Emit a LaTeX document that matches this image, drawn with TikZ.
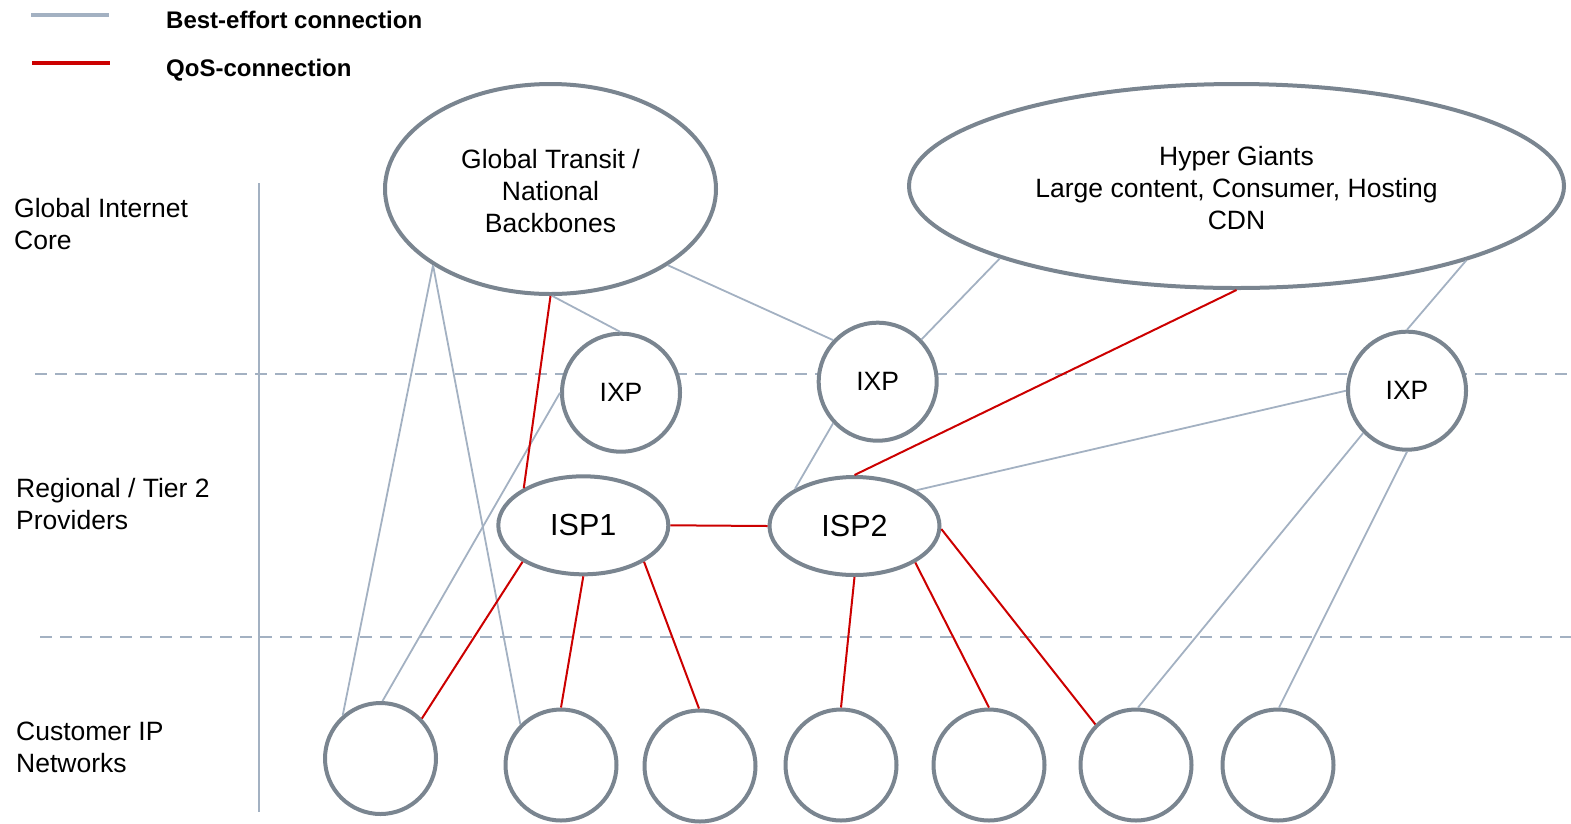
\documentclass[tikz,border=0pt]{standalone}
\usepackage{fontspec}
\setmainfont{Liberation Sans}
\usetikzlibrary{shapes.geometric}
\definecolor{rim}{HTML}{7A8590}
\definecolor{besteffort}{HTML}{A3B1C2}
\definecolor{qos}{HTML}{CC0000}
\tikzset{
  lbl/.style={font=\fontsize{26.5}{32}\selectfont, inner sep=0pt, align=left, anchor=west},
  legendtxt/.style={font=\fontsize{24}{29}\bfseries\selectfont, inner sep=0pt, anchor=base west},
  cloud/.style={ellipse, draw=rim, line width=4pt, fill=white, inner sep=0pt, align=center,
                font=\fontsize{26.5}{32}\selectfont},
  ixp/.style={circle, draw=rim, line width=4pt, fill=white, inner sep=0pt, minimum size=118pt,
              font=\fontsize{26.5}{32}\selectfont},
  isp/.style={ellipse, draw=rim, line width=4pt, fill=white, inner sep=0pt,
              minimum width=170pt, minimum height=98pt, font=\fontsize{30.5}{36}\selectfont},
  cust/.style={circle, draw=rim, line width=4pt, fill=white, inner sep=0pt, minimum size=111pt},
  be/.style={draw=besteffort, line width=1.8pt},
  qs/.style={draw=qos, line width=2pt},
  tierline/.style={draw=besteffort, line width=1.5pt, dash pattern=on 12pt off 8pt},
}
% strut that pushes a centred text block slightly lower
\newcommand{\lowerstrut}{\rule{0pt}{23.5pt}}
\begin{document}
\begin{tikzpicture}[x=1pt, y=-1pt]
\useasboundingbox (0,0) rectangle (1571,823);

% legend
\coordinate (lb1) at (31,15);  \coordinate (lb2) at (109,15);
\coordinate (lq1) at (32,62.5); \coordinate (lq2) at (110,62.5);
\draw[be, line width=4pt] (lb1) -- (lb2);
\draw[qs, line width=4pt] (lq1) -- (lq2);
\node[legendtxt] (ltxt1) at (166,28) {Best-effort connection};
\node[legendtxt] (ltxt2) at (166,76) {QoS-connection};

% tier separators and axis
\coordinate (s1a) at (35,374);  \coordinate (s1b) at (1571,374);
\coordinate (s2a) at (40,637);  \coordinate (s2b) at (1571,637);
\coordinate (axt) at (259,183); \coordinate (axb) at (259,812);
\draw[tierline] (s1a) -- (s1b);
\draw[tierline] (s2a) -- (s2b);
\draw[draw=besteffort, line width=2pt] (axt) -- (axb);

% tier labels
\node[lbl] (tcore) at (14,223.6) {Global Internet\\Core};
\node[lbl] (treg)  at (16,503.6) {Regional / Tier 2\\Providers};
\node[lbl] (tcust) at (16,747.2) {Customer IP\\Networks};

% core
\node[cloud, minimum width=331pt, minimum height=210pt] (gt) at (550.5,189)
  {\lowerstrut Global Transit /\\National\\Backbones};
\node[cloud, minimum width=655pt, minimum height=204pt] (hg) at (1236.5,186)
  {\lowerstrut Hyper Giants\\Large content, Consumer, Hosting\\CDN};

% exchange points
\node[ixp] (ixp1) at (621,392.7)   {IXP};
\node[ixp] (ixp2) at (877.7,381.7) {IXP};
\node[ixp] (ixp3) at (1407,390.7)  {IXP};

% regional providers
\node[isp] (isp1) at (583.3,525.3) {ISP1};
\node[isp] (isp2) at (854.5,526)   {ISP2};

% customer networks
\node[cust] (c1) at (380.5,758.5) {};
\node[cust] (c2) at (561,765) {};
\node[cust] (c3) at (700,766) {};
\node[cust] (c4) at (841,765) {};
\node[cust] (c5) at (989,765) {};
\node[cust] (c6) at (1136,765) {};
\node[cust] (c7) at (1278,765) {};

% best-effort links
\draw[be] (gt.213) -- (c1.131);
\draw[be] (gt.213) -- (c2.135.5);
\draw[be] (gt.271.5) -- (ixp1.91);
\draw[be] (gt.327.5) -- (ixp2.137);
\draw[be] (ixp1.180) -- (c1.88);
\draw[be] (hg.197.6) -- (ixp2.44);
\draw[be] (ixp2.223.4) -- (isp2.148.3);
\draw[be] (hg.342.5) -- (ixp3.90);
\draw[be] (ixp3.180) -- (isp2.30.6);
\draw[be] (ixp3.224) -- (c6.88);
\draw[be] (ixp3.270) -- (c7.89);

% QoS links
\draw[qs] (gt.270) -- (isp1.148.6);
\draw[qs] (hg.270) -- (isp2.90);
\draw[qs] (isp1.0) -- (isp2.180);
\draw[qs] (isp1.211) -- (c1.44);
\draw[qs] (isp1.270) -- (c2.90);
\draw[qs] (isp1.329.7) -- (c3.91);
\draw[qs] (isp2.270) -- (c4.90);
\draw[qs] (isp2.329.2) -- (c5.90);
\draw[qs] (isp2.358) -- (c6.135);
\end{tikzpicture}
\end{document}
